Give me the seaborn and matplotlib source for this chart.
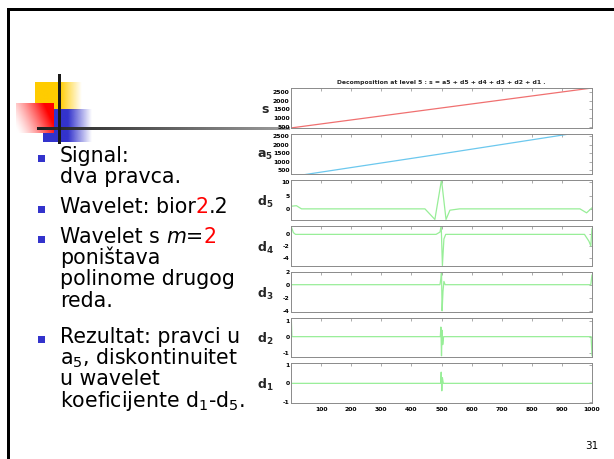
import numpy as np
import matplotlib
matplotlib.use("Agg")
import matplotlib.pyplot as plt
import seaborn as sns
from matplotlib.patches import Rectangle

sns.set_style("white")
plt.rcParams['font.family'] = ['DejaVu Sans']
plt.rcParams['mathtext.fontset'] = 'dejavusans'

# ---- decomposition data (sample index, coefficient value) ----
x_ticks = [100, 200, 300, 400, 500, 600, 700, 800, 900, 1000]

s_x = [1, 500, 1000]
s_y = [440, 1580, 2720]

a5_x = [1, 63, 500, 927, 1000]
a5_y = [130, 300, 1475, 2650, 2850]

d5_x = [1, 18, 35, 445, 478, 500, 515, 528, 560, 960, 982, 1000]
d5_y = [1.0, 1.2, 0.0, 0.0, -4.0, 11.0, -4.0, -0.5, 0.0, 0.0, -1.5, 0.4]

d4_x = [1, 8, 15, 482, 495, 499, 503, 508, 514, 975, 990, 996, 1000]
d4_y = [1.3, 0.3, 0.0, 0.0, 0.4, 1.5, -5.4, -0.8, 0.0, 0.0, -1.2, -2.0, 1.0]

d3_x = [1, 495, 498, 500, 502, 505, 508, 512, 996, 1000]
d3_y = [0.0, 0.0, 1.0, 2.0, -4.0, -1.0, 0.5, 0.0, 0.0, 1.5]

d2_x = [1, 3, 496, 498, 500, 502, 504, 507, 997, 1000]
d2_y = [1.1, 0.0, 0.0, 0.6, -1.2, 0.4, -0.5, 0.0, 0.0, -1.2]

d1_x = [1, 497, 499, 501, 503, 506, 1000]
d1_y = [0.0, 0.0, 0.6, -0.4, 0.3, 0.0, 0.0]

big_ticks = [500, 1000, 1500, 2000, 2500]
panels = [
    (r'$\mathbf{s}$', s_x, s_y, '#f07070', (440, 2720), big_ticks),
    (r'$\mathbf{a_5}$', a5_x, a5_y, '#6cc8ee', (300, 2650), big_ticks),
    (r'$\mathbf{d_5}$', d5_x, d5_y, '#98ee98', (-4.1, 11.0), [0, 5, 10]),
    (r'$\mathbf{d_4}$', d4_x, d4_y, '#98ee98', (-5.4, 1.5), [-4, -2, 0]),
    (r'$\mathbf{d_3}$', d3_x, d3_y, '#98ee98', (-4.1, 2.0), [-4, -2, 0, 2]),
    (r'$\mathbf{d_2}$', d2_x, d2_y, '#98ee98', (-1.3, 1.2), [-1, 0, 1]),
    (r'$\mathbf{d_1}$', d1_x, d1_y, '#98ee98', (-1.07, 1.07), [-1, 0, 1]),
]

W, H = 614, 459
fig = plt.figure(figsize=(W / 100, H / 100), dpi=100)
fig.patch.set_facecolor('white')

# ---- slide background layer in pixel coordinates ----
deco = fig.add_axes([0, 0, 1, 1], zorder=0)
deco.set_axis_off()


def ramp_image(x0, x1, y0, y1, rgb, solid_to, ncols=200):
    """Horizontal strip: solid colour until solid_to, then fading to white."""
    xs = np.linspace(x0, x1, ncols)
    alpha = np.clip((x1 - xs) / (x1 - solid_to), 0, 1)
    img = np.ones((1, ncols, 4))
    img[..., 0:3] = rgb
    img[0, :, 3] = alpha
    deco.imshow(img, extent=(x0, x1, y1, y0), aspect='auto', interpolation='bilinear', zorder=1)


# yellow and blue squares fading to the right
ramp_image(35, 82, 82, 110, (1.0, 0.8, 0.0), 60)
ramp_image(43, 92, 109, 142, (0.2, 0.2, 0.8), 68)

# red square, white at lower left to red at the right edge
nr = 80
u = np.linspace(0, 1, nr)[None, :]
v = np.linspace(0, 1, nr)[:, None]
a = np.clip(0.95 * u + 0.35 * (1 - v) - 0.05, 0, 1) ** 1.3
red = np.ones((nr, nr, 3))
red[..., 1] = 1 - a
red[..., 2] = 1 - a
deco.imshow(red, extent=(16, 54, 133, 103), aspect='auto', interpolation='bilinear', zorder=2)

# thin horizontal rule, dark to grey
ncols = 300
g = np.linspace(0.12, 0.62, ncols)
rule = np.stack([g, g, g], axis=-1)[None, :, :]
deco.imshow(rule, extent=(37, 290, 129.7, 127.3), aspect='auto', interpolation='bilinear', zorder=3)
deco.add_patch(Rectangle((58.3, 74), 2.4, 70, color='#1a1a1a', zorder=4, lw=0))

# slide frame
deco.add_patch(Rectangle((7.3, 8.3), 2.7, H, color='black', lw=0, zorder=4))
deco.add_patch(Rectangle((7.3, 8.3), W, 2.7, color='black', lw=0, zorder=4))

deco.set_xlim(0, W)
deco.set_ylim(H, 0)

renderer = fig.canvas.get_renderer()


def run_width(s, **kw):
    t1 = deco.text(0, 0, s + '|', **kw)
    t2 = deco.text(0, 0, '|', **kw)
    w = t1.get_window_extent(renderer).width - t2.get_window_extent(renderer).width
    t1.remove()
    t2.remove()
    return w


body = 14.8
text_x = 60
lines = [
    (162.3, [("Signal:", {})]),
    (183.0, [("dva pravca.", {})]),
    (213.0, [("Wavelet: bior", {}), ("2", {'color': 'red'}), (".2", {})]),
    (242.7, [("Wavelet s ", {}), ("m", {'style': 'italic'}), ("=", {}), ("2", {'color': 'red'})]),
    (263.7, [("poništava", {})]),
    (285.0, [("polinome drugog", {})]),
    (306.7, [("reda.", {})]),
    (342.7, [("Rezultat: pravci u", {})]),
    (364.0, [(r"$\mathregular{a_5}$, diskontinuitet", {})]),
    (385.0, [("u wavelet", {})]),
    (406.7, [(r"koeficijente $\mathregular{d_1}$-$\mathregular{d_5}$.", {})]),
]
for y, runs in lines:
    x = text_x
    for s, kw in runs:
        style = dict(fontsize=body, color='black', va='baseline', ha='left', zorder=5)
        style.update(kw)
        deco.text(x, y, s, **style)
        x += run_width(s, **style)

bullet_y = [158.8, 209.5, 239.2, 339.2]
for by in bullet_y:
    deco.add_patch(Rectangle((38.3, by - 3.5), 7, 7, color='#3333cc', lw=0, zorder=5))

deco.text(592, 446, "31", fontsize=7.5, ha='center', va='center', color='black', zorder=5)

# ---- wavelet decomposition panels ----
left, width = 291 / W, 301 / W
top_px, h_px, gap_px = 88.0, 39.9, 6.0
frame = '#8a8a8a'
for i, (label, xs, ys, col, ylim, yt) in enumerate(panels):
    top = top_px + i * (h_px + gap_px)
    ax = fig.add_axes([left, 1 - (top + h_px) / H, width, h_px / H], zorder=2)
    sns.lineplot(x=xs, y=ys, ax=ax, color=col, lw=0.9, estimator=None, sort=False)
    ax.set_xlim(0, 1000)
    ax.set_ylim(*ylim)
    ax.set_xticks(x_ticks)
    ax.set_yticks(yt)
    ax.tick_params(direction='in', length=2, width=0.5, color=frame, top=True, right=True,
                   labelsize=4.4, pad=1, labelcolor='black')
    ax.tick_params(axis='x', pad=3)
    for sp in ax.spines.values():
        sp.set_color(frame)
        sp.set_linewidth(0.7)
    ax.set_yticklabels([str(t) for t in yt], fontweight='bold')
    if i == len(panels) - 1:
        ax.set_xticklabels([str(t) for t in x_ticks], fontweight='bold')
    else:
        ax.set_xticklabels([])
    ax.set_ylabel(label, rotation=0, fontsize=9, ha='center', va='center')
    ax.yaxis.set_label_coords(-0.085, 0.45)
    ax.set_facecolor('white')
    if i == 0:
        ax.set_title('Decomposition at level 5 : s = a5 + d5 + d4 + d3 + d2 + d1 .',
                     fontsize=4.4, fontweight='bold', pad=3)

fig.savefig('out.png', dpi=100)
